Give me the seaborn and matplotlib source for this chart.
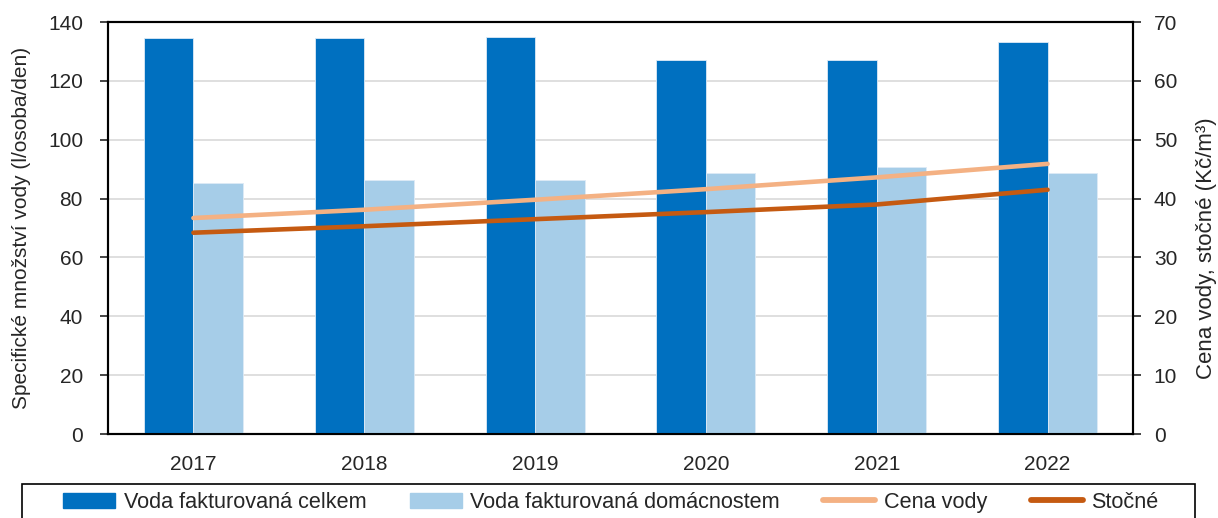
import numpy as np
import pandas as pd
import matplotlib
matplotlib.use('Agg')
import matplotlib.pyplot as plt
import seaborn as sns

# Data
years = ['2017', '2018', '2019', '2020', '2021', '2022']
voda_celkem = [134.6, 134.6, 134.9, 127.1, 127.1, 133.2]
voda_domacnosti = [85.2, 86.4, 86.2, 88.7, 90.8, 88.7]
cena_vody = [36.7, 38.1, 39.8, 41.6, 43.6, 45.9]
stocne = [34.2, 35.3, 36.5, 37.7, 39.0, 41.5]

LBL_CELKEM = 'Voda fakturovaná celkem'
LBL_DOM = 'Voda fakturovaná domácnostem'
LBL_CENA = 'Cena vody'
LBL_STOCNE = 'Stočné'

C_DARK = '#0070c0'
C_LIGHT = '#a6cde8'
C_CENA = '#f4b183'
C_STOCNE = '#c55a11'

sns.set_style('white')
plt.rcParams['font.family'] = ['Liberation Sans', 'DejaVu Sans']
FS = 15

bars_df = pd.DataFrame({
    'rok': years * 2,
    'hodnota': voda_celkem + voda_domacnosti,
    'serie': [LBL_CELKEM] * len(years) + [LBL_DOM] * len(years),
})

W, H = 1218, 518
fig = plt.figure(figsize=(W / 100, H / 100), dpi=100)
ax = fig.add_axes([108 / W, 1 - 434 / H, (1133 - 108) / W, (434 - 22) / H])

sns.barplot(data=bars_df, x='rok', y='hodnota', hue='serie', order=years,
            palette=[C_DARK, C_LIGHT], saturation=1, width=0.58,
            edgecolor='#ddeaf6', linewidth=0.6, ax=ax, legend=False, zorder=3)

ax.set_xlim(-0.5, len(years) - 0.5)
ax.set_ylim(0, 140)
ax.set_yticks(np.arange(0, 141, 20))
ax.yaxis.grid(True, color='#d9d9d9', linewidth=1.2, zorder=0)
ax.set_axisbelow(True)
ax.set_xlabel('')
ax.set_ylabel('Specifické množství vody (l/osoba/den)', fontsize=FS, labelpad=12)
ax.tick_params(axis='x', which='major', length=0, labelsize=FS, pad=15)
ax.set_xticks(np.arange(-0.5, len(years), 1.0), minor=True)
ax.tick_params(axis='x', which='minor', length=6, width=1.2, direction='out')
ax.tick_params(axis='y', length=6, width=1.2, direction='out', labelsize=FS,
               left=True, pad=12)

ax2 = ax.twinx()
idx = np.arange(len(years))
sns.lineplot(x=idx, y=cena_vody, color=C_CENA, linewidth=3.3, ax=ax2,
             solid_capstyle='round')
sns.lineplot(x=idx, y=stocne, color=C_STOCNE, linewidth=3.3, ax=ax2,
             solid_capstyle='round')
ax2.set_ylim(0, 70)
ax2.set_yticks(np.arange(0, 71, 10))
ax2.set_ylabel('Cena vody, stočné (Kč/m³)', fontsize=16)
ax2.yaxis.set_label_coords(1 + (1196 - 1133) / (1133 - 108), (434 - 248) / (434 - 22))
ax2.tick_params(axis='y', length=6, width=1.2, direction='out', labelsize=FS,
                right=True, pad=9)
ax2.set_xlim(-0.5, len(years) - 0.5)

for a in (ax, ax2):
    for s in a.spines.values():
        s.set_color('black')
        s.set_linewidth(1.5)

# Combined legend along the bottom edge, inside a separate frame
handles = [
    plt.Rectangle((0, 0), 1, 1, color=C_DARK),
    plt.Rectangle((0, 0), 1, 1, color=C_LIGHT),
    plt.Line2D([0], [0], color=C_CENA, linewidth=4.2, solid_capstyle='round'),
    plt.Line2D([0], [0], color=C_STOCNE, linewidth=4.2, solid_capstyle='round'),
]
labels = [LBL_CELKEM, LBL_DOM, LBL_CENA, LBL_STOCNE]
fig.legend(handles, labels, loc='upper left', ncol=4,
           bbox_to_anchor=(63 / W, 1 - 492 / H), frameon=False,
           borderpad=0, borderaxespad=0, fontsize=15.6, handlelength=2.4,
           handleheight=0.7, handletextpad=0.4, columnspacing=2.0)
frame = plt.Rectangle((22 / W, -0.05), (1195 - 22) / W, 0.05 + (518 - 484) / H,
                      transform=fig.transFigure, fill=False, edgecolor='black',
                      linewidth=1.2, clip_on=False)
fig.patches.append(frame)

fig.savefig('out.png', dpi=100)
